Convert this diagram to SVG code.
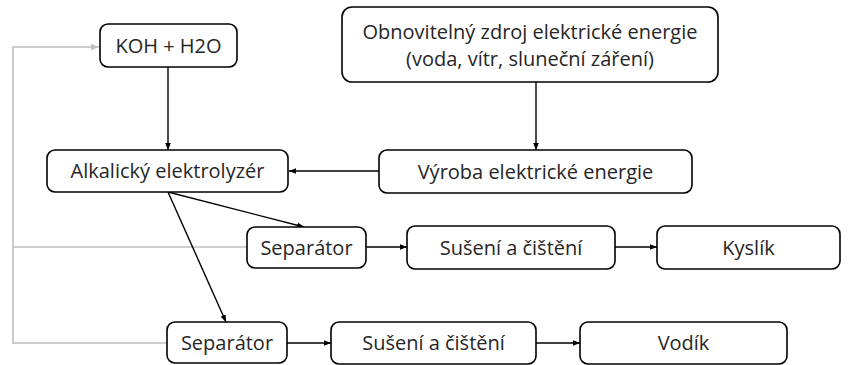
<svg xmlns="http://www.w3.org/2000/svg" width="856" height="365" viewBox="0 0 856 365">
<style>
.box{fill:#fff;stroke:#000;stroke-width:1.6}
.t{font-family:"Open Sans","Liberation Sans",Arial,sans-serif;font-size:20px;fill:#262626;text-anchor:middle}
.c{fill:none;stroke:#000;stroke-width:1.4}
.g{fill:none;stroke:#bfbfbf;stroke-width:1.6}
</style>
<defs>
<marker id="a" viewBox="0 0 10 10" refX="10" refY="5" markerWidth="7" markerHeight="7" markerUnits="userSpaceOnUse" orient="auto"><path d="M0,1 L10,5 L0,9 z" fill="#000"/></marker>
<marker id="ag" viewBox="0 0 10 10" refX="10" refY="5" markerWidth="8" markerHeight="8" markerUnits="userSpaceOnUse" orient="auto"><path d="M0,1 L10,5 L0,9 z" fill="#bfbfbf"/></marker>
</defs>
<g id="connectors">
<path class="g" d="M167,343 H13 V47 H99" marker-end="url(#ag)"/>
<path class="g" d="M247,247 H13"/>
<path class="c" d="M168,67 V150" marker-end="url(#a)"/>
<path class="c" d="M536,82 V150" marker-end="url(#a)"/>
<path class="c" d="M379,171 H289" marker-end="url(#a)"/>
<path class="c" d="M168,192 L304,227" marker-end="url(#a)"/>
<path class="c" d="M168,192 L226,322" marker-end="url(#a)"/>
<path class="c" d="M366,247 H407" marker-end="url(#a)"/>
<path class="c" d="M615,247 H657" marker-end="url(#a)"/>
<path class="c" d="M287,343 H331" marker-end="url(#a)"/>
<path class="c" d="M536,343 H580" marker-end="url(#a)"/>
</g>
<g id="koh"><rect class="box" x="100" y="24" width="137" height="43" rx="8"/><text class="t" x="168.5" y="52.5">KOH + H2O</text></g>
<g id="zdroj"><rect class="box" x="342" y="7" width="376" height="75" rx="10"/><text class="t" x="530" y="39">Obnovitelný zdroj elektrické energie</text><text class="t" x="530" y="66">(voda, vítr, sluneční záření)</text></g>
<g id="elektrolyzer"><rect class="box" x="47" y="150" width="241" height="42" rx="8"/><text class="t" x="167.5" y="178">Alkalický elektrolyzér</text></g>
<g id="vyroba"><rect class="box" x="379" y="150" width="313" height="43" rx="8"/><text class="t" x="535.5" y="179">Výroba elektrické energie</text></g>
<g id="separator1"><rect class="box" x="247" y="227" width="119" height="41" rx="8"/><text class="t" x="306.5" y="254.5">Separátor</text></g>
<g id="suseni1"><rect class="box" x="407" y="226" width="208" height="43" rx="8"/><text class="t" x="511" y="254.5">Sušení a čištění</text></g>
<g id="kyslik"><rect class="box" x="657" y="226" width="183" height="43" rx="8"/><text class="t" x="748.5" y="254.5">Kyslík</text></g>
<g id="separator2"><rect class="box" x="167" y="322" width="120" height="41" rx="8"/><text class="t" x="227" y="350">Separátor</text></g>
<g id="suseni2"><rect class="box" x="331" y="322" width="205" height="42" rx="8"/><text class="t" x="433.5" y="350">Sušení a čištění</text></g>
<g id="vodik"><rect class="box" x="580" y="322" width="207" height="42" rx="8"/><text class="t" x="683.5" y="350">Vodík</text></g>
</svg>
